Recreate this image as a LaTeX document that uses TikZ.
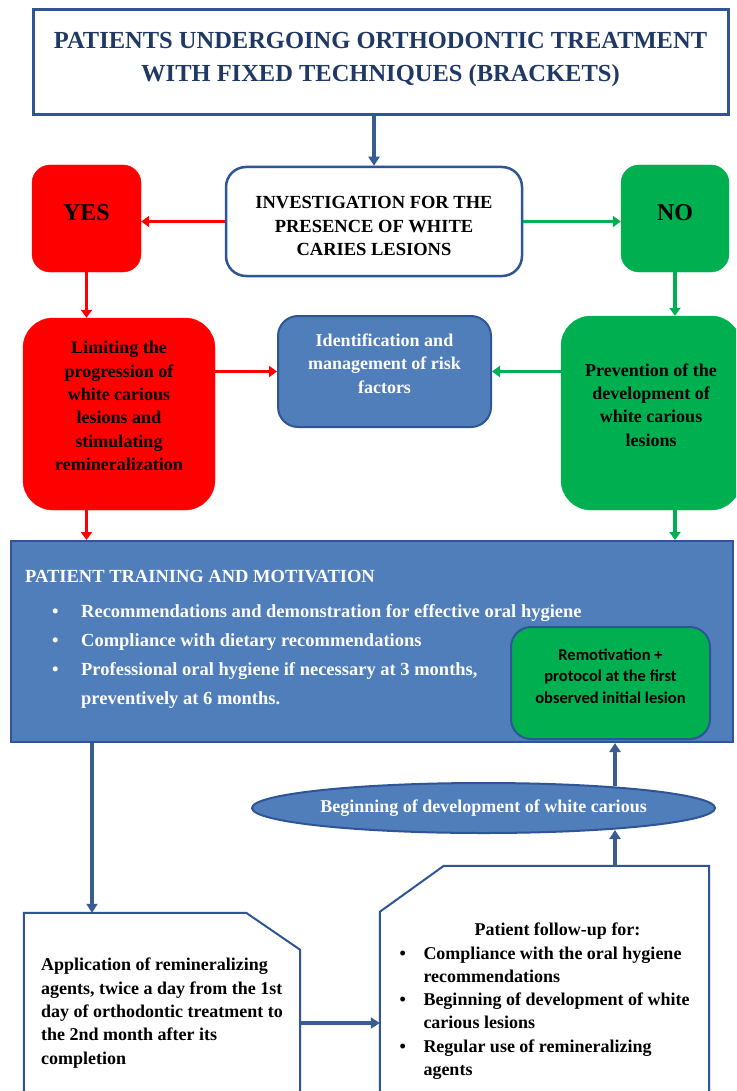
\documentclass[tikz,border=0pt]{standalone}
\usepackage{fontspec}
\setmainfont{Liberation Serif}
\newfontfamily\calib{Carlito}
\usetikzlibrary{shapes.geometric,arrows.meta}
\definecolor{bordblue}{HTML}{2F5597}
\definecolor{arrblue}{HTML}{3A5D91}
\definecolor{fillblue}{HTML}{4F7EBB}
\definecolor{titleblue}{HTML}{1F3864}
\definecolor{boxred}{HTML}{FF0000}
\definecolor{boxgreen}{HTML}{00B050}
% zero width rule, lifts a text block inside its box
\newcommand{\lift}[1]{\rule[-#1]{0pt}{#1}}
\begin{document}
\begin{tikzpicture}[x=1pt,y=-1pt,
  every node/.style={inner sep=0pt},
  txt/.style={font=\bfseries\fontsize{18}{23.3}\selectfont, align=center},
  redbox/.style={txt, fill=boxred, draw=boxred, rounded corners=18pt},
  greenbox/.style={txt, fill=boxgreen, draw=boxgreen, rounded corners=18pt},
  bluebox/.style={txt, fill=fillblue, draw=bordblue, line width=2pt, text=white, rounded corners=20pt},
  snipbox/.style={txt, rectangle},
  snipline/.style={draw=bordblue, line width=2pt},
  bluearr/.style={-{Triangle[length=9pt,width=11pt]}, draw=arrblue, line width=4.5pt},
  redarr/.style={-{Triangle[length=8pt,width=11pt]}, draw=boxred, line width=3.5pt},
  greenarr/.style={-{Triangle[length=8pt,width=11pt]}, draw=boxgreen, line width=3.5pt}]
\useasboundingbox (0,0) rectangle (736,1091);
\clip (0,0) rectangle (736,1091);
\fill[white] (0,0) rectangle (736,1091);

\node[draw=bordblue, line width=3pt, fill=white, minimum width=695pt, minimum height=105pt, align=center, text=titleblue, font=\bfseries\fontsize{24.5}{33}\selectfont] (title) at (380.5,62.5) {PATIENTS UNDERGOING ORTHODONTIC TREATMENT\\WITH FIXED TECHNIQUES (BRACKETS)\lift{11pt}};

\node[txt, draw=bordblue, line width=2.5pt, fill=white, rounded corners=20pt, minimum width=296pt, minimum height=109pt, font=\bfseries\fontsize{18.5}{23.5}\selectfont] (invest) at (374,221.5) {\rule{0pt}{22pt}INVESTIGATION FOR THE\\PRESENCE OF WHITE\\CARIES LESIONS};

\node[redbox, minimum width=109pt, minimum height=107pt, font=\bfseries\fontsize{24}{28}\selectfont] (yes) at (86.5,218.5) {YES\lift{12pt}};
\node[greenbox, minimum width=108pt, minimum height=107pt, font=\bfseries\fontsize{24}{28}\selectfont] (no) at (675,218.5) {NO\lift{12pt}};

\node[redbox, rounded corners=30pt, minimum width=192pt, minimum height=192pt] (limit) at (119,414) {Limiting the\\progression of\\white carious\\lesions and\\stimulating\\remineralization\lift{16pt}};
\node[bluebox, minimum width=213pt, minimum height=111pt] (ident) at (384.5,371.5) {Identification and\\management of risk\\factors\lift{16pt}};
\node[greenbox, rounded corners=30pt, minimum width=180pt, minimum height=194pt] (prev) at (651,413) {Prevention of the\\development of\\white carious\\lesions\lift{16pt}};

\draw[bluearr] (invest.north |- title.south) -- (invest.north);
\draw[redarr] (invest.west) -- (invest.west -| yes.east);
\draw[greenarr] (invest.east) -- (invest.east -| no.west);
\draw[redarr] (yes.south) -- (yes.south |- limit.north);
\draw[greenarr] (no.south) -- (no.south |- prev.north);
\draw[redarr] (ident.west -| limit.east) -- (ident.west);
\draw[greenarr] (prev.west |- ident.east) -- (ident.east);

% training block
\node[draw=bordblue, fill=fillblue, line width=2pt, minimum width=722pt, minimum height=201pt] (train) at (372,641.5) {};
\node[anchor=west, text=white, align=left, font=\bfseries\fontsize{18.5}{29}\selectfont] (traintxt) at (25,639) {PATIENT TRAINING AND MOTIVATION\\[6pt]
\hspace*{27pt}\makebox[29pt][l]{\textbullet}Recommendations and demonstration for effective oral hygiene\\
\hspace*{27pt}\makebox[29pt][l]{\textbullet}Compliance with dietary recommendations\\
\hspace*{27pt}\makebox[29pt][l]{\textbullet}Professional oral hygiene if necessary at 3 months,\\
\hspace*{56pt}preventively at 6 months.};
\node[greenbox, draw=bordblue, line width=2pt, rounded corners=20pt, minimum width=199pt, minimum height=112pt, font=\calib\bfseries\fontsize{16.5}{21.5}\selectfont] (remot) at (610.5,683) {Remotivation +\\protocol at the first\\observed initial lesion\lift{14pt}};

\draw[redarr] (yes.south |- limit.south) -- (yes.south |- train.north);
\draw[greenarr] (no.south |- prev.south) -- (no.south |- train.north);

\node[ellipse, txt, fill=fillblue, draw=bordblue, line width=2pt, minimum width=463pt, minimum height=50pt, text=white] (begin) at (483.5,808) {Beginning of development of white carious};

% snipped boxes
\node[snipbox, minimum width=276pt, minimum height=200pt, align=left] (apply) at (162,1013) {Application of remineralizing\\agents, twice a day from the 1st\\day of orthodontic treatment to\\the 2nd month after its\\completion};
\draw[snipline] (apply.north west) -- ([xshift=-54pt]apply.north east) -- ([yshift=-37pt]apply.north east) -- (apply.south east) -- (apply.south west) -- cycle;

\node[snipbox, minimum width=329pt, minimum height=270pt] (follow) at (544.5,1001) {%
\begin{tabular}{@{}p{24pt}@{}l@{}}
\multicolumn{2}{c}{\hspace*{26pt}Patient follow-up for:}\\
\textbullet & Compliance with the oral hygiene\\
 & recommendations\\
\textbullet & Beginning of development of white\\
 & carious lesions\\
\textbullet & Regular use of remineralizing\\
 & agents
\end{tabular}};
\draw[snipline] (follow.north east) -- ([xshift=64pt]follow.north west) -- ([yshift=-46pt]follow.north west) -- (follow.south west) -- (follow.south east) -- cycle;

\coordinate (downx) at (92,0);
\coordinate (upx) at (615,0);
\draw[bluearr] (downx |- train.south) -- (downx |- apply.north);
\draw[bluearr] ([yshift=-4pt]upx |- begin.north) -- (upx |- train.south);
\draw[bluearr] (upx |- follow.north) -- ([yshift=4pt]upx |- begin.south);
\draw[bluearr] ([yshift=-10pt]apply.east) -- ([yshift=-10pt]apply.east -| follow.west);
\end{tikzpicture}
\end{document}
